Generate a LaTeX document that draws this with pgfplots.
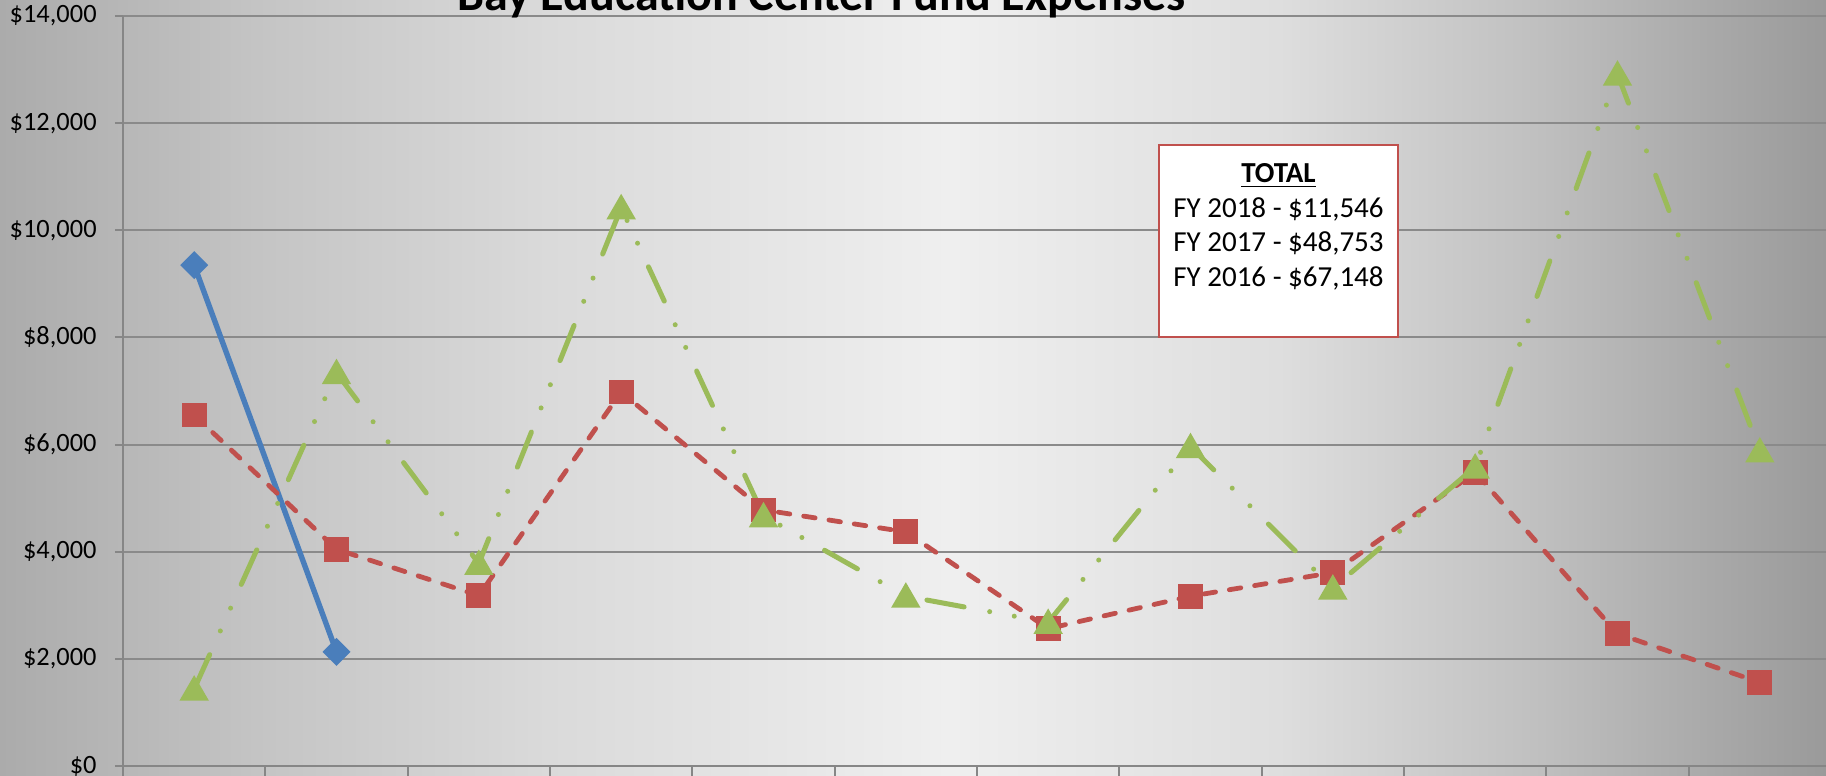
\documentclass[border=0pt]{standalone}
\usepackage{pgfplots}
\pgfplotsset{compat=1.18}
\usepackage{fontspec}
\setmainfont{Carlito}
\definecolor{bgL}{HTML}{ABABAB}
\definecolor{bgA}{HTML}{C4C4C4}
\definecolor{bgA2}{HTML}{DADADA}
\definecolor{bgM}{HTML}{EFEFEF}
\definecolor{bgB2}{HTML}{DEDEDE}
\definecolor{bgB}{HTML}{C0C0C0}
\definecolor{bgR}{HTML}{9A9A9A}
\definecolor{gridgray}{HTML}{8A8A8A}
\definecolor{axisgray}{HTML}{868686}
\definecolor{sblue}{HTML}{4A7EBB}
\definecolor{sred}{HTML}{C0504D}
\definecolor{sgreen}{HTML}{9BBB59}
\definecolor{boxred}{HTML}{C0504D}
\pgfdeclarehorizontalshading{bgshade}{100bp}{color(0bp)=(bgL); color(25bp)=(bgL); color(32bp)=(bgA); color(40bp)=(bgA2); color(51bp)=(bgM); color(60bp)=(bgB2); color(67bp)=(bgB); color(75bp)=(bgR); color(100bp)=(bgR)}
\begin{document}
\begin{tikzpicture}
\path[use as bounding box] (-61.5pt,-5pt) rectangle (851.5pt,383pt);
\clip (-61.5pt,-5pt) rectangle (851.5pt,383pt);
\shade[shading=bgshade] (-61.5pt,-5pt) rectangle (851.5pt,383pt);
\begin{axis}[
  scale only axis, width=854pt, height=375pt,
  xmin=0.5, xmax=12.5, ymin=0, ymax=14000,
  axis lines=left,
  axis line style={-, draw=axisgray, line width=1.3pt},
  xtick={1,...,12},
  xticklabels={Jul,Aug,Sep,Oct,Nov,Dec,Jan,Feb,Mar,Apr,May,Jun},
  minor xtick={0.5,1.5,...,12.5},
  major x tick style={draw=none},
  minor x tick style={draw=axisgray, line width=1pt},
  minor tick length=16pt,
  major tick length=4pt,
  tick align=outside,
  ytick={0,2000,...,14000},
  scaled y ticks=false,
  y tick style={draw=axisgray, line width=1pt},
  ymajorgrids,
  major grid style={draw=gridgray, line width=1pt},
  /pgf/number format/assume math mode=true,
  yticklabel={\$\pgfmathprintnumber[fixed,1000 sep={,}]{\tick}},
  yticklabel style={font=\fontsize{13.2}{15}\selectfont, anchor=east, inner sep=0pt, xshift=-9pt},
  xticklabel style={font=\fontsize{13}{15}\selectfont, anchor=north, inner sep=0pt, yshift=-2pt},
  clip=false,
]
\addplot[color=sblue, line width=2.7pt, mark=square*, mark size=3.6pt, mark options={rotate=45, solid, fill=sblue}]
  coordinates {(1,9350) (2,2130)};
\addplot[color=sred, line width=2.4pt, dash pattern=on 5.8pt off 7pt, line cap=round, mark=square*, mark size=5pt, mark options={solid, fill=sred}]
  coordinates {(1,6552) (2,4045) (3,3180) (4,6980) (5,4780) (6,4370) (7,2565) (8,3170) (9,3610) (10,5480) (11,2470) (12,1560)};
\addplot[color=sgreen, line width=2.5pt, dash pattern=on 18.9pt off 13pt on 0pt off 12.5pt on 0pt off 13pt, line cap=round, mark=triangle*, mark size=6pt, mark options={solid, fill=sgreen, yshift=-1.5pt}]
  coordinates {(1,1435) (2,7342) (3,3780) (4,10420) (5,4670) (6,3170) (7,2680) (8,5960) (9,3320) (10,5580) (11,12914) (12,5880)};
\end{axis}
\node[anchor=base, font=\fontsize{24}{28}\selectfont\bfseries] at (349.25pt,377.5pt) {Bay Education Center Fund Expenses};
\draw[draw=boxred, line width=1pt, fill=white] (518pt,214.5pt) rectangle (637.5pt,310.5pt);
\node[anchor=base, font=\fontsize{14.5}{17}\selectfont\bfseries] at (577.75pt,291.5pt) {\underline{TOTAL}};
\node[anchor=base, font=\fontsize{14.5}{17}\selectfont] at (577.75pt,274pt) {FY 2018 - \$11,546};
\node[anchor=base, font=\fontsize{14.5}{17}\selectfont] at (577.75pt,257pt) {FY 2017 - \$48,753};
\node[anchor=base, font=\fontsize{14.5}{17}\selectfont] at (577.75pt,239.5pt) {FY 2016 - \$67,148};
\end{tikzpicture}
\end{document}
